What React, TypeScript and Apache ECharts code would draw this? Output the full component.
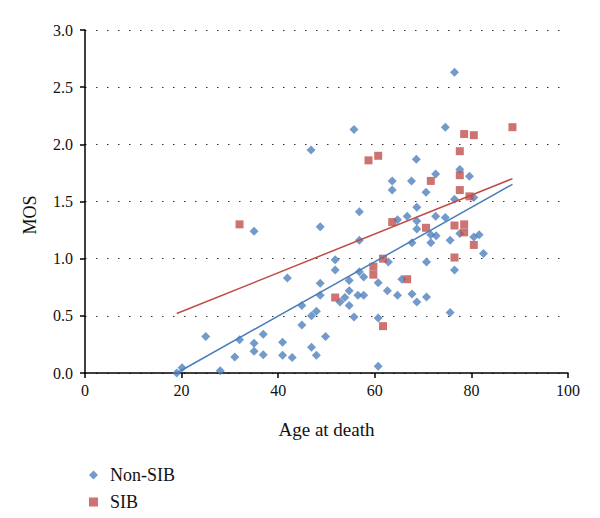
import React, { useEffect, useRef } from "react";
import * as echarts from "echarts";

const xTicks = [0, 20, 40, 60, 80, 100];
const yTicks = [0, 0.5, 1, 1.5, 2, 2.5, 3];

const nonSib: [number, number][] = [
  [19.0, 0.0], [20.1, 0.045], [25.0, 0.32], [28.0, 0.02], [31.0, 0.14], [32.0, 0.29],
  [35.0, 1.24], [35.0, 0.26], [35.0, 0.19], [36.9, 0.34], [36.9, 0.16], [40.9, 0.27],
  [40.9, 0.155], [41.9, 0.83], [42.9, 0.135], [44.9, 0.59], [44.9, 0.42], [46.8, 1.95],
  [46.9, 0.5], [46.9, 0.225], [47.9, 0.54], [47.9, 0.155], [48.7, 1.28], [48.7, 0.785],
  [48.7, 0.68], [49.8, 0.32], [51.8, 0.99], [51.8, 0.9], [52.8, 0.62], [53.8, 0.66],
  [54.7, 0.81], [54.7, 0.72], [54.7, 0.59], [55.7, 2.13], [55.7, 0.49], [56.5, 0.68],
  [56.8, 1.41], [56.8, 1.16], [56.8, 0.885], [57.7, 0.84], [57.7, 0.68], [60.7, 0.79],
  [60.7, 0.48], [60.7, 0.06], [62.6, 0.72], [62.8, 0.97], [63.6, 1.68], [63.6, 1.6],
  [64.7, 1.34], [64.7, 0.68], [65.6, 0.82], [66.7, 1.37], [67.6, 1.68], [67.7, 1.14],
  [67.7, 0.69], [68.6, 1.87], [68.7, 1.45], [68.7, 1.33], [68.7, 1.26], [68.7, 0.62],
  [70.6, 1.58], [70.7, 0.97], [70.7, 0.665], [71.6, 1.21], [71.6, 1.14], [72.6, 1.74],
  [72.6, 1.37], [72.7, 1.2], [74.6, 2.15], [74.6, 1.36], [75.6, 1.16], [75.6, 0.53],
  [76.5, 2.63], [76.5, 1.52], [76.5, 0.9], [77.6, 1.78], [77.6, 1.22], [79.6, 1.72],
  [80.5, 1.535], [80.5, 1.19], [81.6, 1.21], [82.5, 1.045],
];

const sib: [number, number][] = [
  [32.0, 1.3], [51.8, 0.66], [58.7, 1.86], [59.7, 0.93], [59.7, 0.86], [60.7, 1.9],
  [61.7, 1.0], [61.7, 0.41], [63.6, 1.32], [66.7, 0.82], [70.6, 1.27], [71.6, 1.68],
  [76.5, 1.29], [76.5, 1.01], [77.6, 1.94], [77.6, 1.73], [77.6, 1.6], [78.5, 2.09],
  [78.5, 1.3], [78.5, 1.23], [79.6, 1.545], [80.5, 2.08], [80.5, 1.12], [88.5, 2.15],
];

const nonSibTrend: [number, number][] = [[19.0, 0.0], [88.5, 1.65]];
const sibTrend: [number, number][] = [[19.0, 0.52], [88.5, 1.7]];

const BLUE = "#4f81bd";
const RED = "#c0504d";
const FONT = "'Liberation Serif', 'DejaVu Serif', serif";

export default function App() {
  const ref = useRef<HTMLDivElement>(null);
  useEffect(() => {
    if (!ref.current) return;
    const chart = echarts.init(ref.current, undefined, { renderer: "svg" });
    chart.setOption({
      animation: false,
      backgroundColor: "#ffffff",
      grid: { left: 85, right: 32, top: 30, bottom: 145, containLabel: false },
      legend: {
        orient: "vertical",
        left: 89,
        top: 466,
        height: 60,
        padding: 0,
        itemWidth: 9,
        itemHeight: 9,
        itemGap: 9,
        data: ["Non-SIB", "SIB"],
        textStyle: {
          fontFamily: FONT,
          fontSize: 18,
          color: "#111",
          lineHeight: 18,
          padding: [0, 0, 0, 7],
        },
      },
      xAxis: {
        type: "value",
        min: xTicks[0],
        max: xTicks[xTicks.length - 1],
        interval: 20,
        name: "Age at death",
        nameLocation: "middle",
        nameGap: 47,
        nameTextStyle: { fontFamily: FONT, fontSize: 19, color: "#111" },
        axisLine: { show: true, lineStyle: { color: "#000", width: 1.5 } },
        axisTick: { show: true, length: 5, inside: false, lineStyle: { color: "#000", width: 1.5 } },
        axisLabel: { fontFamily: FONT, fontSize: 16, color: "#111", margin: 9 },
        splitLine: { show: false },
      },
      yAxis: {
        type: "value",
        min: yTicks[0],
        max: yTicks[yTicks.length - 1],
        interval: 0.5,
        axisLine: { show: true, lineStyle: { color: "#000", width: 1.5 } },
        axisTick: { show: true, length: 5, inside: false, lineStyle: { color: "#000", width: 1.5 } },
        axisLabel: {
          fontFamily: FONT,
          fontSize: 16,
          color: "#111",
          margin: 12,
          formatter: (v: number) => v.toFixed(1),
        },
        splitLine: {
          show: true,
          lineStyle: { color: "#333", width: 1.2, type: [1.5, 9.5] },
        },
      },
      graphic: [
        {
          type: "text",
          x: 30,
          y: 215,
          rotation: Math.PI / 2,
          style: {
            text: "MOS",
            fontFamily: FONT,
            fontSize: 18,
            fill: "#111",
            align: "center",
            verticalAlign: "middle",
          },
        },
      ],
      series: [
        {
          name: "Non-SIB",
          type: "scatter",
          symbol: "diamond",
          symbolSize: 9,
          itemStyle: { color: BLUE },
          data: nonSib,
          z: 3,
        },
        {
          name: "SIB",
          type: "scatter",
          symbol: "rect",
          symbolSize: 8,
          itemStyle: { color: RED },
          data: sib,
          z: 3,
        },
        {
          name: "Non-SIB trend",
          type: "line",
          data: nonSibTrend,
          showSymbol: false,
          symbol: "none",
          lineStyle: { color: "#4a7ebb", width: 1.5 },
          z: 4,
        },
        {
          name: "SIB trend",
          type: "line",
          data: sibTrend,
          showSymbol: false,
          symbol: "none",
          lineStyle: { color: "#be4b48", width: 1.5 },
          z: 4,
        },
      ],
    });
    return () => chart.dispose();
  }, []);
  return (
    <div
      ref={ref}
      style={{ position: "absolute", left: 0, top: 0, width: 600, height: 518 }}
    />
  );
}
